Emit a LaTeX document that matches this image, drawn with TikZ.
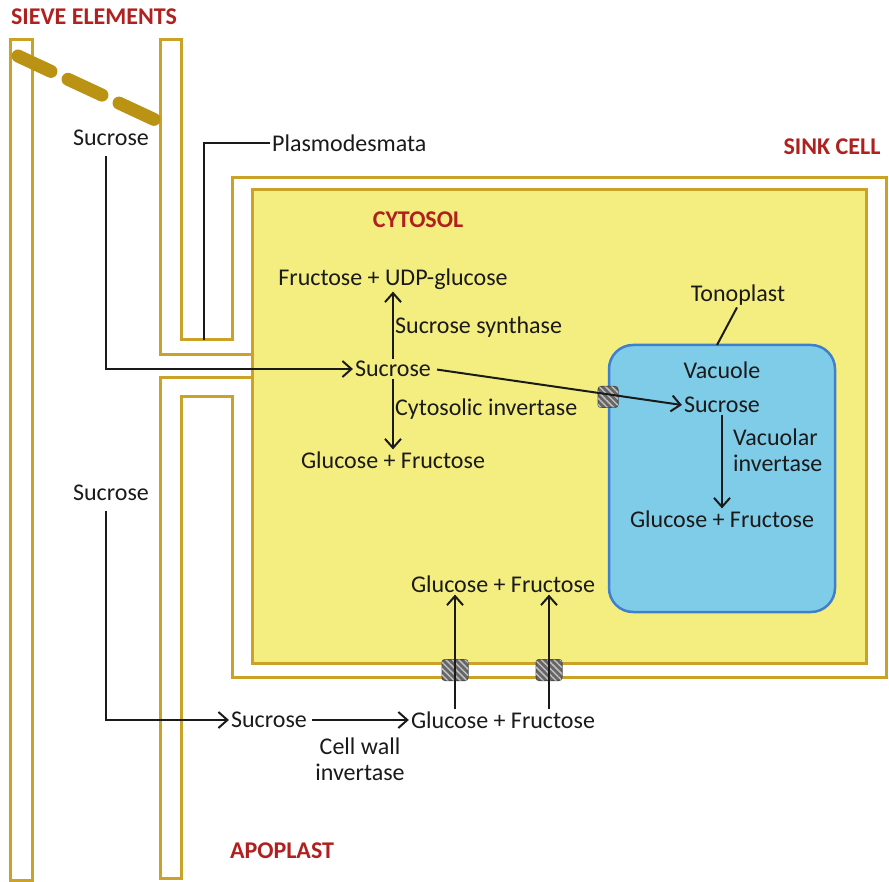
\documentclass[tikz,border=0pt]{standalone}
\usepackage{fontspec}
\setmainfont{Carlito}
\usetikzlibrary{arrows.meta,patterns.meta}
\definecolor{wallgold}{HTML}{C9A227}
\definecolor{plategold}{HTML}{BA9314}
\definecolor{cytoyellow}{HTML}{F4ED80}
\definecolor{vacblue}{HTML}{7FCCE8}
\definecolor{vacborder}{HTML}{3F7FCB}
\definecolor{labelred}{HTML}{B0201F}
\definecolor{ink}{HTML}{1A1A1A}
\begin{document}
\begin{tikzpicture}[x=1pt,y=-1pt,
  txt/.style={font=\fontsize{24}{26}\selectfont, text=ink, inner sep=2pt},
  ttl/.style={font=\fontsize{24}{26}\selectfont\bfseries, text=labelred, inner sep=0pt},
  wall/.style={draw=wallgold, line width=3pt, line join=miter},
  plate/.style={draw=plategold, line width=13pt, line cap=round},
  flow/.style={draw=ink, line width=2pt, -{Straight Barb[length=9pt,width=16pt,line width=2pt]}},
  lead/.style={draw=ink, line width=2pt},
  porter/.style={draw=black!70, fill=black!60, rounded corners=3pt, minimum width=#1,
    minimum height=21pt, inner sep=0pt, line width=1pt,
    postaction={pattern={Lines[angle=-45,distance=4.5pt,line width=1.5pt]}, pattern color=black!25}},
  porter/.default=20pt]
\useasboundingbox (0,0) rectangle (889,882);

% sieve element walls and sink cell wall
\draw[wall] (10,40) rectangle (32,880);
\draw[wall] (252,355) -- (160,355) -- (160,40) -- (181,40) -- (181,340) -- (232,340)
  -- (232,178) -- (886,178) -- (886,677) -- (232,677) -- (232,397) -- (181,397)
  -- (181,878) -- (160,878) -- (160,378) -- (252,378);
% cytosol
\draw[wall, fill=cytoyellow] (252,190) rectangle (866,663);
% vacuole
\draw[draw=vacborder, fill=vacblue, line width=2.5pt, rounded corners=24pt] (609,345) rectangle (835,612);
% sieve plate
\draw[plate] (18,56) -- (51,71.4);
\draw[plate] (68,79.3) -- (102,95.1);
\draw[plate] (119,103.1) -- (154,119.4);

% transporters
\node[porter] (tv) at (608,397) {};
\node[porter=26pt] (t1) at (455,670) {};
\node[porter=26pt] (t2) at (549,670) {};

% titles
\node[ttl] (sieve) at (94,17) {SIEVE ELEMENTS};
\node[ttl] (sink) at (832,147) {SINK CELL};
\node[ttl] (cyto) at (418,220) {CYTOSOL};
\node[ttl] (apo) at (282,851) {APOPLAST};

% texts
\node[txt] (sucTop) at (111,138) {Sucrose};
\node[txt, anchor=west] (plas) at (270,143) {Plasmodesmata};
\node[txt] (fruUDP) at (393,279) {Fructose + UDP-glucose};
\node[txt, anchor=west] (sucSyn) at (393,327) {Sucrose synthase};
\node[txt] (tono) at (738,295) {Tonoplast};
\node[txt] (sucC) at (393,369) {Sucrose};
\node[txt] (vac) at (722,370) {Vacuole};
\node[txt] (sucV) at (722,405) {Sucrose};
\node[txt, anchor=west] (cytInv) at (393,409) {Cytosolic invertase};
\node[txt] (gfC) at (393,460) {Glucose + Fructose};
\node[txt, anchor=west, align=left] (vacInv) at (731,450) {Vacuolar\\invertase};
\node[txt] (gfV) at (722,519) {Glucose + Fructose};
\node[txt] (sucLow) at (111,493) {Sucrose};
\node[txt] (gfIn) at (503,584) {Glucose + Fructose};
\node[txt] (sucA) at (269,720) {Sucrose};
\node[txt] (gfA) at (503,720) {Glucose + Fructose};
\node[txt, align=center] (cwInv) at (360,759) {Cell wall\\invertase};

% leaders
\coordinate (pd) at (204,340);
\coordinate (tp) at (717,345);
\draw[lead] (pd) |- (plas.west);
\draw[lead] ([xshift=-1pt]tono.south) -- (tp);

% flows
\draw[flow, shorten <=8pt] ([xshift=-5pt]sucTop.south) |- (sucC.west);
\draw[flow, shorten <=8pt] ([xshift=-5pt]sucLow.south) |- (sucA.west);
\draw[flow] (sucC.north) -- (fruUDP.south);
\draw[flow] (sucC.south) -- (gfC.north);
\draw[flow, shorten <=4pt] (sucC.east) -- (sucV.west);
\draw[flow] (sucV.south) -- (gfV.north);
\draw[flow, shorten <=3pt] (sucA.east) -- (gfA.west);
\draw[flow] (t1 |- gfA.north) -- (t1 |- gfIn.south);
\draw[flow] (t2 |- gfA.north) -- (t2 |- gfIn.south);
\end{tikzpicture}
\end{document}
